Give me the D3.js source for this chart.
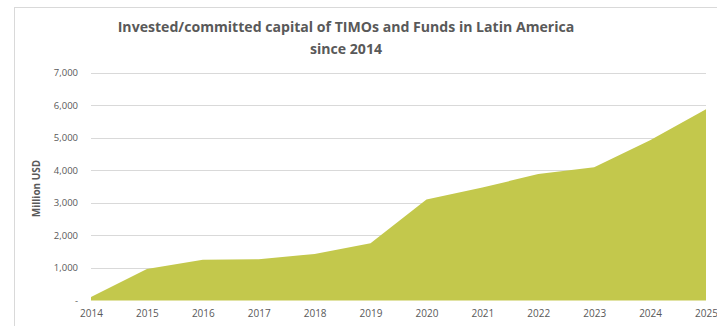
<!DOCTYPE html>
<html>
<head>
<meta charset="utf-8">
<script src="https://cdn.jsdelivr.net/npm/d3@7/dist/d3.min.js"></script>
<style>
  html, body { margin: 0; padding: 0; background: #fff; }
  svg { display: block; }
  text { font-family: "Open Sans", "DejaVu Sans", sans-serif; fill: #595959; }
</style>
</head>
<body>
<svg id="chart" width="717" height="326"></svg>
<script>
// Invested/committed capital, million USD
const years = [2014, 2015, 2016, 2017, 2018, 2019, 2020, 2021, 2022, 2023, 2024, 2025];
const capital = [110, 970, 1250, 1270, 1430, 1760, 3100, 3470, 3880, 4090, 4920, 5870];
const yTicks = [0, 1000, 2000, 3000, 4000, 5000, 6000, 7000];
const titleLines = ["Invested/committed capital of TIMOs and Funds in Latin America", "since 2014"];
const yAxisTitle = "Million USD";

const svg = d3.select("#chart");
const W = 717, H = 326;
const plot = { left: 91, right: 706, top: 72.5, bottom: 300.5 };

// chart frame
svg.append("rect")
  .attr("x", 14.5).attr("y", 7.5)
  .attr("width", W + 20).attr("height", H + 20)
  .attr("fill", "none").attr("stroke", "#d9d9d9").attr("stroke-width", 1);

const x = d3.scalePoint().domain(years).range([plot.left, plot.right]);
const y = d3.scaleLinear().domain([0, 7000]).range([plot.bottom, plot.top]);

// gridlines
svg.append("g")
  .selectAll("line")
  .data(yTicks.filter(d => d > 0))
  .join("line")
  .attr("x1", plot.left).attr("x2", plot.right)
  .attr("y1", d => Math.round(y(d)) + 0.5).attr("y2", d => Math.round(y(d)) + 0.5)
  .attr("stroke", "#d9d9d9").attr("stroke-width", 1);

// area
const area = d3.area()
  .x((d, i) => x(years[i]))
  .y0(y(0))
  .y1(d => y(d));
svg.append("path")
  .datum(capital)
  .attr("d", area)
  .attr("fill", "#c3c84c");

// y axis
const yAxis = d3.axisLeft(y)
  .tickValues(yTicks)
  .tickSize(0)
  .tickPadding(0)
  .tickFormat(d => d === 0 ? "-" : d3.format(",")(d));
const yg = svg.append("g").attr("transform", `translate(78,0)`).call(yAxis);
yg.select(".domain").remove();
yg.selectAll("text")
  .attr("font-size", 9.5)
  .style("font-family", "\"Open Sans\", sans-serif")
  .attr("fill", "#595959");

// x axis
const xAxis = d3.axisBottom(x).tickSize(0).tickPadding(0).tickFormat(d3.format("d"));
const xg = svg.append("g").attr("transform", `translate(0,${plot.bottom + 9})`).call(xAxis);
xg.select(".domain").remove();
xg.selectAll("text")
  .attr("font-size", 10)
  .style("font-family", "\"Open Sans\", sans-serif")
  .attr("fill", "#595959");

// axis title
svg.append("text")
  .attr("transform", `translate(40,${(plot.top + plot.bottom) / 2 + 2}) rotate(-90)`)
  .attr("text-anchor", "middle")
  .attr("font-size", 10)
  .attr("font-weight", "bold")
  .text(yAxisTitle);

// title, sized so the first line spans ~457px
const title = svg.append("text")
  .attr("text-anchor", "middle")
  .attr("font-size", 15)
  .attr("font-weight", "bold")
  .attr("fill", "#636363");
const tspans = title.selectAll("tspan")
  .data(titleLines)
  .join("tspan")
  .attr("x", 346)
  .attr("y", (d, i) => 32 + i * 22)
  .text(d => d);
const w0 = tspans.node().getComputedTextLength();
title.attr("font-size", 15 * 457 / w0);
</script>
</body>
</html>
